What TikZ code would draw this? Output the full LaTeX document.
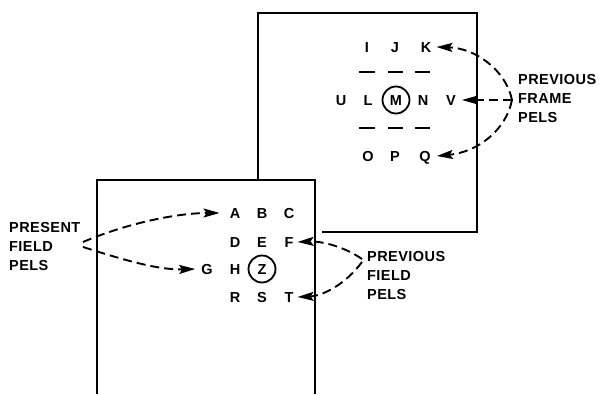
\documentclass[tikz,border=0pt]{standalone}
\usepackage{fontspec}
\setmainfont{Liberation Sans}[LetterSpace=3]
\usetikzlibrary{arrows.meta}
\begin{document}
\begin{tikzpicture}[x=1pt,y=-1pt,
  frame/.style={line width=2.2pt},
  pel/.style={inner sep=0pt,anchor=center,text height=10.5pt,text depth=0pt,font=\fontsize{14.5}{18}\selectfont\bfseries},
  lab/.style={inner sep=0pt,anchor=north west,align=left,font=\fontsize{14.5}{19}\selectfont\bfseries},
  ptr/.style={line width=1.9pt,dash pattern=on 9pt off 5pt,-{Stealth[length=16pt,width=9pt,inset=3pt,sep=0pt]}},
  ring/.style={line width=1.8pt},
  bar/.style={line width=1.8pt}]
\useasboundingbox (0,0) rectangle (603,394);
% frames
\draw[frame] (322,232) -- (477,232) -- (477,13) -- (258,13) -- (258,180);
\draw[frame] (97,394) -- (97,180) -- (315,180) -- (315,394);
% previous frame pels
\node[pel] (I) at (367,47) {I};
\node[pel] (J) at (395,47) {J};
\node[pel] (K) at (426,47) {K};
\node[pel] (U) at (341,100) {U};
\node[pel] (L) at (368,100) {L};
\node[pel] (M) at (396,100) {M};
\node[pel] (N) at (423,100) {N};
\node[pel] (V) at (451,100) {V};
\node[pel] (O) at (368,156) {O};
\node[pel] (P) at (395,156) {P};
\node[pel] (Q) at (425,156) {Q};
\draw[ring] (M) circle (13.5);
\foreach \y in {72,128}{
  \draw[bar] (359,\y) -- (375,\y);
  \draw[bar] (388,\y) -- (403,\y);
  \draw[bar] (415,\y) -- (430,\y);
}
% present field pels
\node[pel] (A) at (235,213) {A};
\node[pel] (B) at (262,213) {B};
\node[pel] (C) at (289,213) {C};
\node[pel] (D) at (235,242) {D};
\node[pel] (E) at (262,242) {E};
\node[pel] (F) at (289,242) {F};
\node[pel] (G) at (207,269) {G};
\node[pel] (H) at (235,269) {H};
\node[pel] (Z) at (262,269) {Z};
\node[pel] (R) at (235,297) {R};
\node[pel] (S) at (262,297) {S};
\node[pel] (T) at (289,297) {T};
\draw[ring] (Z) circle (13.5);
% labels
\node[lab] (pfr) at (518,74) {PREVIOUS\\FRAME\\PELS};
\node[lab] (pre) at (9,222) {PRESENT\\FIELD\\PELS};
\node[lab] (pfi) at (367,251) {PREVIOUS\\FIELD\\PELS};
\coordinate (fr) at (512,100);
\coordinate (pr1) at (83,242);
\coordinate (pr2) at (83,247);
\coordinate (fi1) at (362,259);
\coordinate (fi2) at (362,262);
% connectors
\draw[ptr] (fr) .. controls (506,70) and (475,48) .. ([xshift=5pt]K.east);
\draw[ptr] (fr) -- ([xshift=6pt]V.east);
\draw[ptr] (fr) .. controls (506,130) and (478,152) .. ([xshift=6pt]Q.east);
\draw[ptr] (pr1) .. controls (130,222) and (180,213) .. ([xshift=-10pt]A.west);
\draw[ptr] (pr2) .. controls (130,262) and (160,270) .. ([xshift=-6pt]G.west);
\draw[ptr] (fi1) .. controls (345,247) and (322,241) .. ([xshift=4pt]F.east);
\draw[ptr] (fi2) .. controls (345,285) and (322,296) .. ([xshift=4pt]T.east);
\end{tikzpicture}
\end{document}
